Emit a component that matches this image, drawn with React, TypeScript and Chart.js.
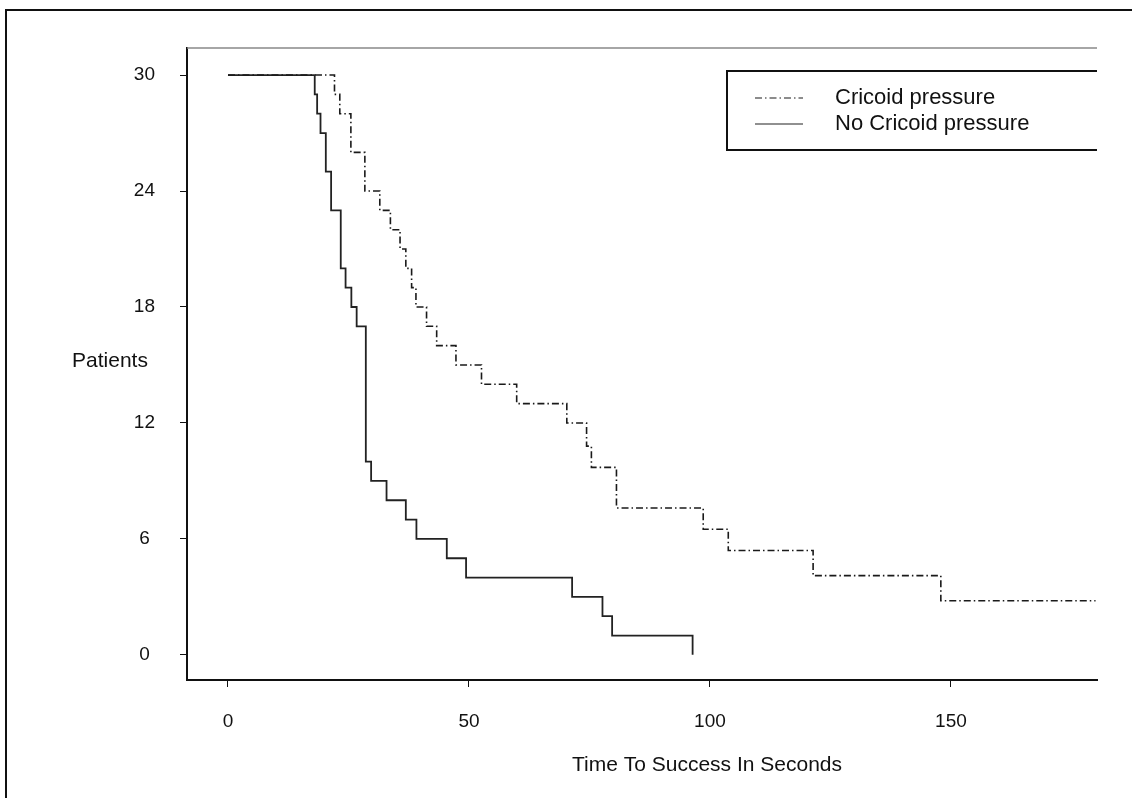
import React, { useEffect, useRef } from 'react';
import { Chart, registerables } from 'chart.js';

Chart.register(...registerables);

// Kaplan-Meier style step data (time in s, patients remaining)
const noCpTimes = [0, 18.0, 18.5, 19.2, 20.3, 21.4, 23.4, 24.4, 25.6, 26.7, 28.6, 29.7, 32.9, 36.9, 39.1, 45.4, 49.4, 71.4, 77.7, 79.7, 96.4];
const noCpValues = [30, 29, 28, 27, 25, 23, 20, 19, 18, 17, 10, 9, 8, 7, 6, 5, 4, 3, 2, 1, 0];

const cpTimes = [0, 22.1, 23.2, 25.5, 28.4, 31.5, 33.7, 35.7, 36.9, 38.1, 39.0, 41.2, 43.3, 47.3, 52.6, 59.9, 70.3, 74.4, 75.4, 80.6, 98.6, 103.8, 121.4, 147.9, 180];
const cpValues = [30, 29, 28, 26, 24, 23, 22, 21, 20, 19, 18, 17, 16, 15, 14, 13, 12, 10.8, 9.7, 7.6, 6.5, 5.4, 4.1, 2.8, 2.8];

const seriesLabels = ['Cricoid pressure', 'No Cricoid pressure'];
const xTicks = [0, 50, 100, 150];
const yTicks = [0, 6, 12, 18, 24, 30];
const yAxisLabel = 'Patients';
const xAxisLabel = 'Time To Success In Seconds';

const FONT = "'Liberation Sans', Arial, Helvetica, sans-serif";
const CP_DASH = [7, 3, 1.5, 3];

const framePlugin = {
  id: 'framePlugin',
  beforeDraw(chart: any) {
    const { ctx, width, height } = chart;
    ctx.save();
    ctx.fillStyle = '#ffffff';
    ctx.fillRect(0, 0, width, height);
    ctx.restore();
  },
  afterDraw(chart: any) {
    const { ctx, chartArea: ca } = chart;
    ctx.save();
    // outer figure frame (cut off at right/bottom)
    ctx.strokeStyle = '#111';
    ctx.lineWidth = 2;
    ctx.beginPath();
    ctx.moveTo(6, chart.height);
    ctx.lineTo(6, 10);
    ctx.lineTo(chart.width, 10);
    ctx.stroke();
    // top line of plot box
    ctx.strokeStyle = '#888';
    ctx.lineWidth = 1.5;
    ctx.beginPath();
    ctx.moveTo(ca.left, ca.top);
    ctx.lineTo(ca.right, ca.top);
    ctx.stroke();
    // axis labels
    ctx.fillStyle = '#111';
    ctx.textBaseline = 'middle';
    ctx.textAlign = 'center';
    ctx.font = `21px ${FONT}`;
    ctx.fillText(yAxisLabel, 110, chart.scales.y.getPixelForValue(15.2));
    ctx.fillText(xAxisLabel, 707, 765);
    // legend
    const lx = ca.right - 370;
    const ty = ca.top + 23;
    const by = ca.top + 102;
    ctx.strokeStyle = '#111';
    ctx.lineWidth = 2;
    ctx.beginPath();
    ctx.moveTo(ca.right, ty);
    ctx.lineTo(lx, ty);
    ctx.lineTo(lx, by);
    ctx.lineTo(ca.right, by);
    ctx.stroke();
    const ds = chart.data.datasets;
    const rows = [ty + 27, ty + 53];
    ds.forEach((d: any, i: number) => {
      ctx.save();
      ctx.strokeStyle = d.borderColor;
      ctx.lineWidth = 1.2;
      ctx.setLineDash(d.borderDash || []);
      ctx.beginPath();
      ctx.moveTo(lx + 28, rows[i]);
      ctx.lineTo(lx + 76, rows[i]);
      ctx.stroke();
      ctx.restore();
      ctx.fillStyle = '#111';
      ctx.font = `22px ${FONT}`;
      ctx.textAlign = 'left';
      ctx.textBaseline = 'middle';
      ctx.fillText(d.label, lx + 108, rows[i]);
    });
    ctx.restore();
  },
};

export default function App() {
  const ref = useRef<HTMLCanvasElement | null>(null);
  useEffect(() => {
    if (!ref.current) return;
    const chart = new Chart(ref.current, {
      type: 'line',
      data: {
        datasets: [
          {
            label: seriesLabels[0],
            data: cpTimes.map((t, i) => ({ x: t, y: cpValues[i] })),
            borderColor: '#1a1a1a',
            borderWidth: 1.6,
            borderDash: CP_DASH,
            stepped: 'before',
            pointRadius: 0,
            fill: false,
          },
          {
            label: seriesLabels[1],
            data: noCpTimes.map((t, i) => ({ x: t, y: noCpValues[i] })),
            borderColor: '#222',
            borderWidth: 1.8,
            stepped: 'before',
            pointRadius: 0,
            fill: false,
          },
        ],
      },
      options: {
        animation: false,
        responsive: false,
        maintainAspectRatio: false,
        layout: { padding: { left: 0, top: 48, right: 35, bottom: 0 } },
        plugins: {
          legend: { display: false },
          tooltip: { enabled: false },
          title: { display: false },
        },
        scales: {
          x: {
            type: 'linear',
            min: -8.5,
            max: 180.3,
            afterBuildTicks: (s: any) => {
              s.ticks = xTicks.map((v) => ({ value: v }));
            },
            afterFit: (s: any) => {
              s.height = 118;
            },
            grid: { drawOnChartArea: false, drawTicks: true, tickLength: 7, color: '#111', lineWidth: 1 },
            border: { display: true, color: '#111', width: 2 },
            ticks: {
              color: '#111',
              font: { family: FONT, size: 19 },
              padding: 23,
              maxRotation: 0,
              autoSkip: false,
            },
            title: { display: false },
          },
          y: {
            type: 'linear',
            min: -1.3,
            max: 31.4,
            afterBuildTicks: (s: any) => {
              s.ticks = yTicks.map((v) => ({ value: v }));
            },
            afterFit: (s: any) => {
              s.width = 187;
            },
            grid: { drawOnChartArea: false, drawTicks: true, tickLength: 7, color: '#111', lineWidth: 1 },
            border: { display: true, color: '#111', width: 2 },
            ticks: {
              color: '#111',
              font: { family: FONT, size: 19 },
              crossAlign: 'center',
              padding: 25,
            },
          },
        },
      },
      plugins: [framePlugin],
    });
    return () => chart.destroy();
  }, []);
  return (
    <div style={{ position: 'fixed', left: 0, top: 0, width: 1132, height: 798, background: '#fff' }}>
      <canvas ref={ref} width={1132} height={798} style={{ width: 1132, height: 798, display: 'block' }} />
    </div>
  );
}
